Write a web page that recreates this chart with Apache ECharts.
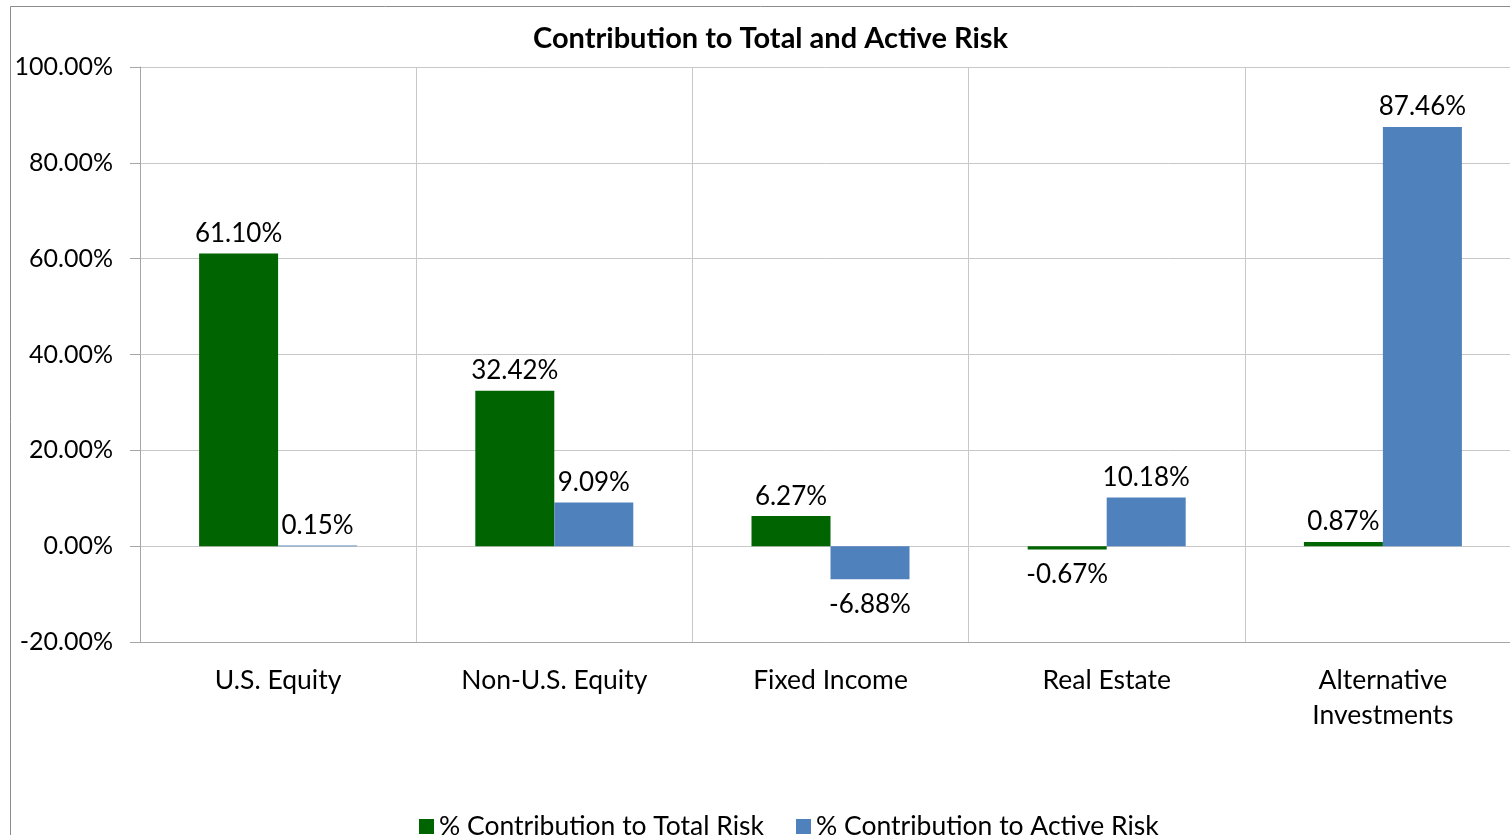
<!DOCTYPE html>
<html>
<head>
<meta charset="utf-8">
<script src="https://cdn.jsdelivr.net/npm/echarts@6/dist/echarts.min.js"></script>
<style>html,body{margin:0;padding:0;background:#fff}#c{width:1510px;height:835px}</style>
</head>
<body>
<div id="c"></div>
<script>
var categories = ['U.S. Equity', 'Non-U.S. Equity', 'Fixed Income', 'Real Estate', 'Alternative\nInvestments'];
var totalRisk = [61.10, 32.42, 6.27, -0.67, 0.87];
var activeRisk = [0.15, 9.09, -6.88, 10.18, 87.46];
var seriesNames = ['% Contribution to Total Risk', '% Contribution to Active Risk'];
var yTicks = {min: -20, max: 100, interval: 20};

var FONT = 'Lato';
function items(arr) {
  return arr.map(function (v) {
    return {value: v, label: {position: v < 0 ? 'bottom' : 'top', distance: v < 0 ? 12 : 7}};
  });
}
var chart = echarts.init(document.getElementById('c'));
chart.setOption({
  animation: false,
  textStyle: {fontFamily: FONT},
  graphic: [{type: 'rect', shape: {x: 10.5, y: 6.5, width: 1700, height: 1000}, style: {fill: null, stroke: '#8c8c8c', lineWidth: 1}, z: -1}],
  title: {text: 'Contribution to Total and Active Risk', left: 528, top: 19,
    textStyle: {fontFamily: FONT, fontWeight: 'bold', fontSize: 29, color: '#000'}},
  legend: {top: 808, left: 414, itemWidth: 15, itemHeight: 15, itemGap: 32, icon: 'rect',
    textStyle: {fontFamily: FONT, fontSize: 26.5, color: '#000'}},
  grid: {left: 140, top: 67, width: 1381, height: 575, outerBoundsMode: 'none', containLabel: false},
  xAxis: {type: 'category', data: categories,
    axisLine: {onZero: false, lineStyle: {color: '#a6a6a6'}},
    axisTick: {show: false},
    splitLine: {show: true, lineStyle: {color: '#c8c8c8'}},
    axisLabel: {fontFamily: FONT, fontSize: 26.5, color: '#000', margin: 21, lineHeight: 35}},
  yAxis: {type: 'value', min: yTicks.min, max: yTicks.max, interval: yTicks.interval,
    axisLine: {show: true, lineStyle: {color: '#a6a6a6'}},
    axisTick: {show: true, length: 10, lineStyle: {color: '#a6a6a6'}},
    splitLine: {lineStyle: {color: '#c8c8c8'}},
    axisLabel: {fontFamily: FONT, fontSize: 25, color: '#000', margin: 27,
      formatter: function (v) { return v.toFixed(2) + '%'; }}},
  series: [
    {name: seriesNames[0], type: 'bar', data: items(totalRisk), barWidth: '28.6%', barGap: '0%',
      itemStyle: {color: '#006400'},
      label: {show: true, fontFamily: FONT, fontSize: 26, color: '#000',
        formatter: function (p) { return p.value.toFixed(2) + '%'; }}},
    {name: seriesNames[1], type: 'bar', data: items(activeRisk), barWidth: '28.6%', barGap: '0%',
      itemStyle: {color: '#4f81bd'},
      label: {show: true, fontFamily: FONT, fontSize: 26, color: '#000',
        formatter: function (p) { return p.value.toFixed(2) + '%'; }}}
  ]
});
</script>
</body>
</html>
